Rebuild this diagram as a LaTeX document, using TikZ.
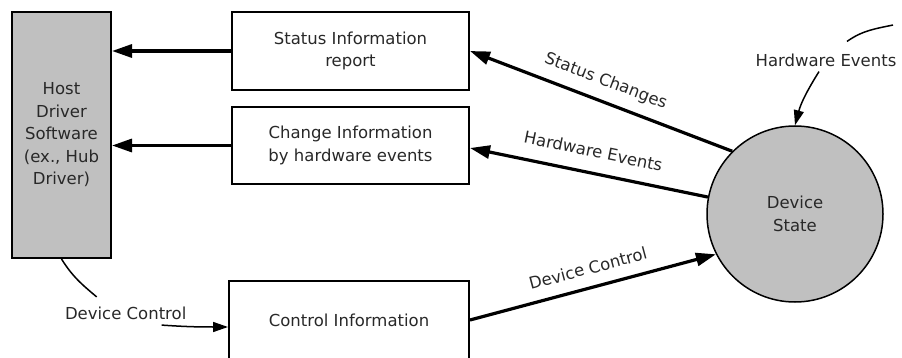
\documentclass[tikz,border=0pt]{standalone}
\usepackage{fontspec}
\setmainfont{DejaVu Sans}
\usetikzlibrary{arrows.meta}
\definecolor{boxgray}{RGB}{192,192,192}
\definecolor{inkdark}{RGB}{40,40,40}
\tikzset{
  every node/.style={font=\fontsize{16.5}{22.5}\selectfont, text=inkdark},
  infobox/.style={draw=black, line width=2pt, align=center, inner sep=0pt},
  devcircle/.style={circle, draw=black, line width=1.5pt, fill=boxgray,
    minimum size=176pt, inner sep=0pt, align=center},
  bigflow/.style={line width=3.2pt, -{Triangle[length=20pt,width=13pt]}},
  bigflowrev/.style={line width=3.2pt, {Triangle[length=20pt,width=13pt]}-},
  leader/.style={line width=1.5pt},
  leadarrow/.style={line width=1.5pt, -{Triangle[length=15pt,width=10pt]}},
  flowlabel/.style={sloped, above, inner xsep=0pt},
  freelabel/.style={inner sep=0pt},
}
\begin{document}
\begin{tikzpicture}[x=1pt,y=-1pt]
\clip (0,0) rectangle (902,358);

% blocks
\node[infobox, fill=boxgray, minimum width=99pt, minimum height=246pt]
  (host) at (61.5,135) {Host\\Driver\\Software\\(ex., Hub\\Driver)};
\node[infobox, minimum width=237pt, minimum height=78pt]
  (s1) at (350.5,51) {Status Information\\report};
\node[infobox, minimum width=237pt, minimum height=77pt]
  (s2) at (350.5,145.5) {Change Information\\by hardware events};
\node[infobox, minimum width=240pt, minimum height=78pt]
  (ctrl) at (349,320) {Control Information};
\node[devcircle] (dev) at (795,214) {Device\\State};

% reports to the host
\draw[bigflow] (s1.west) -- (s1.west -| host.east);
\draw[bigflow] (s2.west) -- (s2.west -| host.east);

% flows from and to the device state
\draw[bigflowrev] (s1.east) --
  node[flowlabel, pos=0.49, inner ysep=10.5pt] {Status Changes} (dev.135);
\draw[bigflowrev] ([yshift=-2.5pt]s2.east) --
  node[flowlabel, pos=0.5, inner ysep=14pt] {Hardware Events} (dev.169);
\draw[bigflow] (ctrl.east) --
  node[flowlabel, pos=0.5, inner ysep=11.5pt] {Device Control} (dev.207);

% external hardware events
\coordinate (hwin) at (893,25);
\node[freelabel] (hwlbl) at (826,60) {Hardware Events};
\draw[leader] (hwin) to[out=192,in=35] ([xshift=21pt,yshift=12pt]hwlbl.north);
\draw[leadarrow] ([xshift=-7pt,yshift=-5pt]hwlbl.south) to[out=238,in=75] (dev.north);

% device control issued by the host
\node[freelabel] (dcl) at (125.7,313.5) {Device Control};
\draw[leader] (host.south) to[out=-58,in=140] ([xshift=-29pt,yshift=10pt]dcl.north);
\draw[leadarrow] ([xshift=36pt,yshift=-5pt]dcl.south) to[out=-4,in=180] ([yshift=-7pt]ctrl.west);
\end{tikzpicture}
\end{document}
